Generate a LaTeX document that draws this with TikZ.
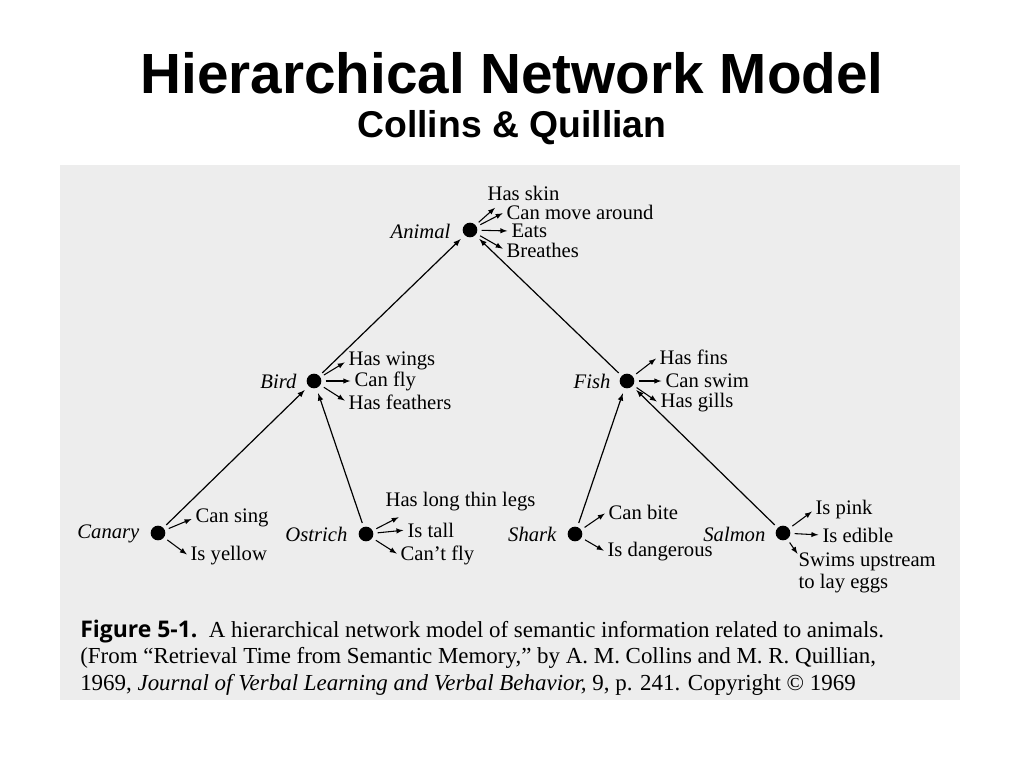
\documentclass[tikz,border=0pt]{standalone}
\usepackage{fontspec}
\setmainfont{Liberation Serif}
\newfontfamily\ttl{Liberation Sans}
\newfontfamily\capfnt{Open Sans}
\begin{document}
\begin{tikzpicture}[x=0.75pt,y=-0.75pt,
  dot/.style={circle,fill=black,inner sep=0pt,minimum size=11pt},
  nm/.style={anchor=east,font=\fontsize{15.5}{15.5}\selectfont\itshape,inner sep=1pt},
  pr/.style={anchor=west,font=\fontsize{15.5}{15.5}\selectfont,inner sep=1pt},
  pa/.style={-latex,shorten <=3pt,shorten >=2pt,line width=0.8pt},
  ln/.style={-latex,shorten <=3pt,shorten >=4pt,line width=0.9pt},
  capt/.style={anchor=west,font=\fontsize{17.2}{17.2}\selectfont,inner sep=0pt}]
\useasboundingbox (0,0) rectangle (1024,768);
\fill[white] (0,0) rectangle (1024,768);
\fill[black!7] (60,165) rectangle (960,700);
\node[font=\ttl\bfseries\fontsize{42.5}{42.5}\selectfont] (title) at (512,73) {Hierarchical Network Model};
\node[font=\ttl\bfseries\fontsize{28}{28}\selectfont] (sub) at (512,128) {Collins \& Quillian};
% nodes
\node[dot] (animal) at (470,230) {};
\node[dot] (bird) at (314,381) {};
\node[dot] (fish) at (627,381) {};
\node[dot] (canary) at (158,533) {};
\node[dot] (ostrich) at (366,534) {};
\node[dot] (shark) at (575,534) {};
\node[dot] (salmon) at (783,533) {};
\node[nm] (animalL) at (452,231) {Animal};
\node[nm] (birdL) at (298,381) {Bird};
\node[nm] (fishL) at (612,381) {Fish};
\node[nm] (canaryL) at (141,534) {Canary};
\node[nm] (ostrichL) at (349,534) {Ostrich};
\node[nm] (sharkL) at (558,534) {Shark};
\node[nm] (salmonL) at (767,534) {Salmon};
% links
\draw[ln] (bird) -- (animal);
\draw[ln] (fish) -- (animal);
\draw[ln] (canary) -- (bird);
\draw[ln] (ostrich) -- (bird);
\draw[ln] (shark) -- (fish);
\draw[ln] (salmon) -- (fish);
% properties
\node[pr] (a1) at (486,193) {Has skin};
\node[pr] (a2) at (505,212) {Can move around};
\node[pr] (a3) at (510,231) {Eats};
\node[pr] (a4) at (505,250) {Breathes};
\coordinate (a1e) at (497,206);
\draw[pa] (animal) -- (a1e);
\draw[pa] (animal) -- (a2.west);
\draw[pa] (animal) -- (a3.west);
\draw[pa] (animal) -- (a4.west);
\node[pr] (b1) at (347,361) {Has wings};
\node[pr] (b2) at (353,381) {Can fly};
\node[pr] (b3) at (347,402) {Has feathers};
\draw[pa] (bird) -- (b1.west);
\draw[pa] (bird) -- (b2.west);
\draw[pa] (bird) -- (b3.west);
\node[pr] (f1) at (658,357) {Has fins};
\node[pr] (f2) at (664,381) {Can swim};
\node[pr] (f3) at (659,403) {Has gills};
\draw[pa] (fish) -- (f1.west);
\draw[pa] (fish) -- (f2.west);
\draw[pa] (fish) -- (f3.west);
\node[pr] (c1) at (194,518) {Can sing};
\node[pr] (c2) at (189,556) {Is yellow};
\draw[pa] (canary) -- (c1.west);
\draw[pa] (canary) -- (c2.west);
\node[pr] (o1) at (384,502) {Has long thin legs};
\node[pr] (o2) at (406,530) {Is tall};
\node[pr] (o3) at (399,555) {Can’t fly};
\coordinate (o1e) at (401,516);
\draw[pa] (ostrich) -- (o1e);
\draw[pa] (ostrich) -- (o2.west);
\draw[pa] (ostrich) -- (o3.west);
\node[pr] (s1) at (607,512) {Can bite};
\node[pr] (s2) at (606,552) {Is dangerous};
\draw[pa] (shark) -- (s1.west);
\draw[pa] (shark) -- (s2.west);
\node[pr] (m1) at (814,510) {Is pink};
\node[pr] (m2) at (821,535) {Is edible};
\node[pr,align=left,anchor=north west] (m3) at (797,551) {Swims upstream\\[1pt]to lay eggs};
\draw[pa] (salmon) -- (m1.west);
\draw[pa] (salmon) -- (m2.west);
\coordinate (m3e) at (799,556);
\draw[pa] (salmon) -- (m3e);
% caption
\node[capt] (cap1) at (80,632) {{\capfnt\bfseries Figure 5-1.}\enspace A hierarchical network model of semantic information related to animals.};
\node[capt] (cap2) at (80,658) {(From “Retrieval Time from Semantic Memory,” by A. M. Collins and M. R. Quillian,};
\node[capt] (cap3) at (80,685) {1969, \textit{Journal of Verbal Learning and Verbal Behavior,} 9, p. 241. Copyright © 1969};
\end{tikzpicture}
\end{document}
